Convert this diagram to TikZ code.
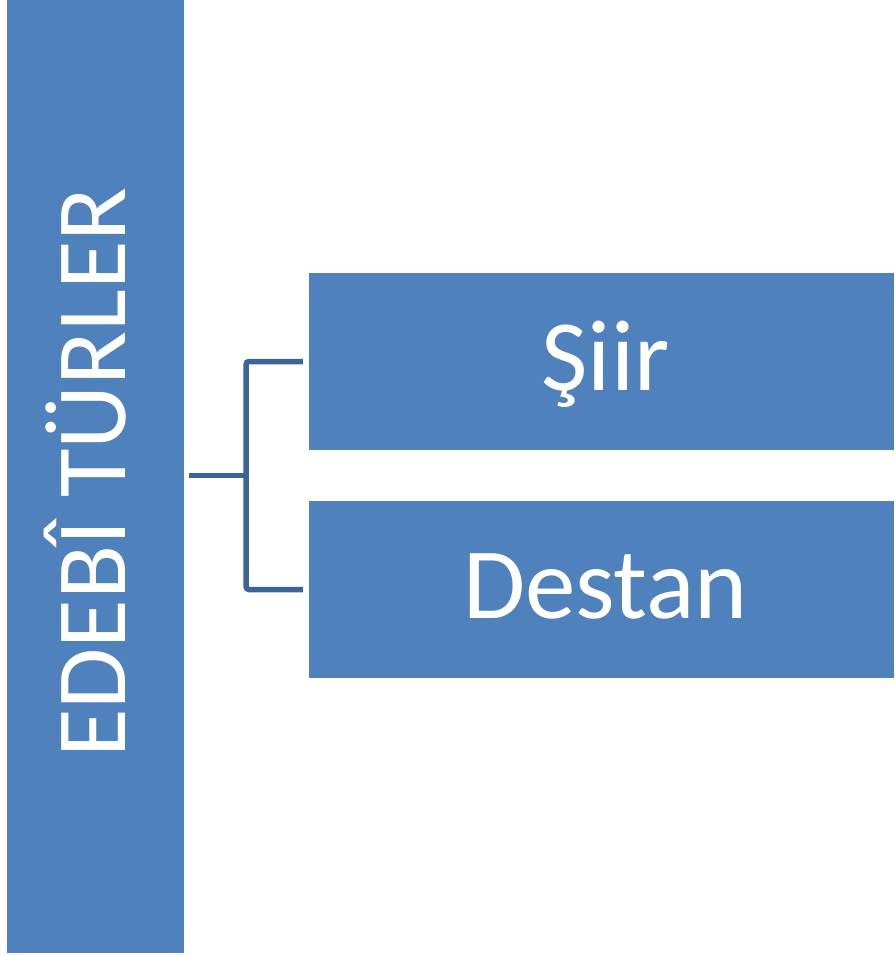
\documentclass[tikz,border=0pt]{standalone}
\usepackage{fontspec}
\setmainfont{Carlito}
\usepackage{tikz}

\definecolor{boxblue}{HTML}{4F81BD}
\definecolor{linkblue}{HTML}{3C6496}

\begin{document}
\begin{tikzpicture}[x=1pt,y=-1pt,
  box/.style={shape=rectangle,fill=boxblue,draw=none,inner sep=0pt,text=white},
  link/.style={draw=linkblue,line width=5.5pt,rounded corners=3pt}]
\useasboundingbox (0,0) rectangle (894,955);
%[bar on the left]
\path (95.5,476.5) node (title) [box,minimum width=177,minimum height=953] {};
\path (125,472.5) node (titletext) [rotate=90,anchor=base,text=white] {\fontsize{99.5}{100}\selectfont EDEBÎ TÜRLER};
\path (601.5,361.5) node (siir) [box,minimum width=585,minimum height=177,text height=57pt,text depth=0pt] {\fontsize{101}{100}\selectfont\hspace*{8pt}Şiir};
\path (601.5,589.5) node (destan) [box,minimum width=585,minimum height=177,text height=57pt,text depth=0pt] {\fontsize{101}{100}\selectfont\hspace*{8pt}Destan};

\coordinate (fork) at (246,475.5);
\draw [link] ([xshift=5pt]title.east |- fork) -- (fork);
\draw [link] ([xshift=-6pt]siir.west) -| (fork) |- ([xshift=-6pt]destan.west);
\end{tikzpicture}
\end{document}
